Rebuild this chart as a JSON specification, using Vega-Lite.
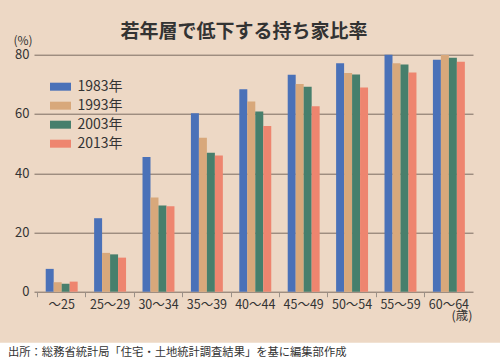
{
  "$schema": "https://vega.github.io/schema/vega-lite/v6.json",
  "background": "#EDD8C5",
  "padding": {"left": 0, "top": 22.7, "right": 0, "bottom": 0},
  "columns": 1,
  "align": "none",
  "spacing": 20,
  "config": {
    "font": "Noto Sans CJK JP",
    "view": {"stroke": null}
  },
  "concat": [
    {
      "width": 500,
      "height": 237,
      "title": {"text": "若年層で低下する持ち家比率", "fontSize": 19, "fontWeight": "bold", "color": "#333333", "font": "Noto Sans CJK JP", "anchor": "middle", "dx": -6, "offset": -7.7},
      "data": {"values": [
        {"age": "～25", "year": "1983年", "rate": 7.7},
        {"age": "～25", "year": "1993年", "rate": 3.2},
        {"age": "～25", "year": "2003年", "rate": 2.7},
        {"age": "～25", "year": "2013年", "rate": 3.4},
        {"age": "25～29", "year": "1983年", "rate": 24.8},
        {"age": "25～29", "year": "1993年", "rate": 13.1},
        {"age": "25～29", "year": "2003年", "rate": 12.6},
        {"age": "25～29", "year": "2013年", "rate": 11.5},
        {"age": "30～34", "year": "1983年", "rate": 45.5},
        {"age": "30～34", "year": "1993年", "rate": 31.8},
        {"age": "30～34", "year": "2003年", "rate": 29.1},
        {"age": "30～34", "year": "2013年", "rate": 28.8},
        {"age": "35～39", "year": "1983年", "rate": 60.2},
        {"age": "35～39", "year": "1993年", "rate": 52.0},
        {"age": "35～39", "year": "2003年", "rate": 46.9},
        {"age": "35～39", "year": "2013年", "rate": 46.0},
        {"age": "40～44", "year": "1983年", "rate": 68.3},
        {"age": "40～44", "year": "1993年", "rate": 64.2},
        {"age": "40～44", "year": "2003年", "rate": 60.8},
        {"age": "40～44", "year": "2013年", "rate": 55.9},
        {"age": "45～49", "year": "1983年", "rate": 73.2},
        {"age": "45～49", "year": "1993年", "rate": 70.1},
        {"age": "45～49", "year": "2003年", "rate": 69.2},
        {"age": "45～49", "year": "2013年", "rate": 62.6},
        {"age": "50～54", "year": "1983年", "rate": 77.1},
        {"age": "50～54", "year": "1993年", "rate": 73.8},
        {"age": "50～54", "year": "2003年", "rate": 73.3},
        {"age": "50～54", "year": "2013年", "rate": 68.9},
        {"age": "55～59", "year": "1983年", "rate": 80.0},
        {"age": "55～59", "year": "1993年", "rate": 77.1},
        {"age": "55～59", "year": "2003年", "rate": 76.7},
        {"age": "55～59", "year": "2013年", "rate": 74.0},
        {"age": "60～64", "year": "1983年", "rate": 78.3},
        {"age": "60～64", "year": "1993年", "rate": 79.9},
        {"age": "60～64", "year": "2003年", "rate": 79.0},
        {"age": "60～64", "year": "2013年", "rate": 77.6}
      ]},
      "mark": {"type": "bar"},
      "encoding": {
        "x": {
          "field": "age", "type": "nominal", "sort": null,
          "scale": {"range": [34, 473], "paddingInner": 0.34, "paddingOuter": 0.205, "align": 0.59},
          "axis": {
            "domain": false, "grid": false, "ticks": true, "bandPosition": -0.2576,
            "tickColor": "#9A9088", "tickSize": 5, "labelPadding": 2,
            "labelAngle": 0, "labelFontSize": 12.5, "labelColor": "#333333",
            "title": "(歳)", "titleX": 472, "titleY": 28, "titleAlign": "right",
            "titleBaseline": "alphabetic", "titleFontWeight": "normal", "titleFontSize": 12.5, "titleColor": "#333333"
          }
        },
        "xOffset": {"field": "year", "type": "nominal", "sort": null, "scale": {"paddingInner": 0, "paddingOuter": 0}},
        "y": {
          "field": "rate", "type": "quantitative",
          "scale": {"domain": [0, 80], "nice": false},
          "axis": {
            "values": [0, 20, 40, 60, 80], "domain": false, "ticks": false, "offset": -37,
            "grid": true, "gridColor": "#7A6B60", "gridWidth": 1,
            "labelPadding": 8, "labelFontSize": 13, "labelColor": "#333333",
            "title": "(%)", "titleAngle": 0, "titleX": -24, "titleY": -10,
            "titleAlign": "left", "titleBaseline": "alphabetic", "titleFontWeight": "normal",
            "titleFontSize": 12, "titleColor": "#333333"
          }
        },
        "color": {
          "field": "year", "type": "nominal",
          "scale": {"domain": ["1983年", "1993年", "2003年", "2013年"], "range": ["#4A71B8", "#D8A87B", "#477F6C", "#EE856F"]},
          "legend": {
            "title": null, "orient": "none", "legendX": 53.5, "legendY": 25,
            "symbolType": "M-1.5,-0.571H1.5V0.571H-1.5Z", "symbolSize": 196,
            "symbolStrokeWidth": 0, "labelFontSize": 14, "labelColor": "#333333",
            "labelOffset": 10, "rowPadding": 5
          }
        }
      }
    },
    {
      "width": 500,
      "height": 23,
      "view": {"fill": "#FFFFFF", "stroke": null},
      "data": {"values": [{"note": "出所：総務省統計局「住宅・土地統計調査結果」を基に編集部作成"}]},
      "mark": {"type": "text", "align": "left", "baseline": "middle", "font": "Noto Sans CJK JP", "fontSize": 11.3, "color": "#333333", "dx": 8, "dy": -1},
      "encoding": {
        "text": {"field": "note"},
        "x": {"datum": 0, "type": "quantitative", "scale": {"domain": [0, 1]}, "axis": null}
      }
    }
  ]
}
